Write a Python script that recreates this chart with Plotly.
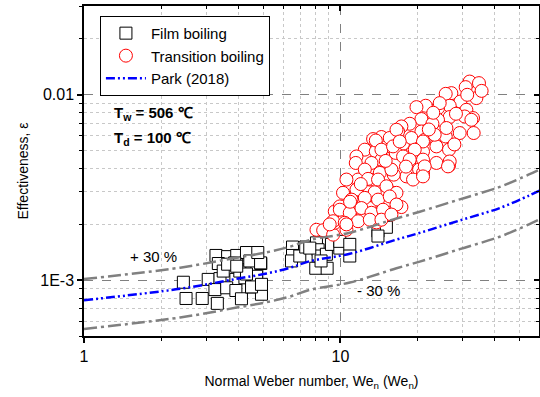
import plotly.graph_objects as go

# Film boiling (squares)
film_we = [2.44, 2.50, 2.89, 3.31, 3.27, 3.63, 3.94, 4.30, 3.34, 3.87, 4.24, 4.89, 3.05, 3.39,
           3.91, 4.24, 3.24, 3.60, 3.91, 4.11, 4.50, 4.92, 4.71, 4.05, 3.49, 3.63, 4.43, 4.88,
           4.92, 4.50, 4.92, 4.30, 4.76, 3.94,
           6.50, 6.50, 6.44, 6.94, 7.32, 8.06, 8.18, 8.18, 8.01, 8.87, 8.81, 9.22, 9.94, 9.94,
           10.87, 10.87, 14.0, 15.1, 14.0, 7.59, 8.4]
film_eff = [9.75e-4, 7.97e-4, 7.97e-4, 7.5e-4, 1.36e-3, 1.34e-3, 1.36e-3, 1.41e-3, 1.23e-3,
            1.24e-3, 1.14e-3, 1.23e-3, 1.01e-3, 1.02e-3, 1.01e-3, 1.03e-3, 8.9e-4, 9.1e-4,
            8.8e-4, 7.94e-4, 9.2e-4, 9.2e-4, 1.05e-3, 1.12e-3, 1.12e-3, 1.22e-3, 1.27e-3,
            1.24e-3, 8.4e-4, 9.2e-4, 9.5e-4, 1.08e-3, 1.41e-3, 1.19e-3,
            1.51e-3, 1.36e-3, 1.27e-3, 1.35e-3, 1.51e-3, 1.59e-3, 1.46e-3, 1.35e-3, 1.16e-3,
            1.16e-3, 1.38e-3, 1.56e-3, 1.49e-3, 1.62e-3, 1.56e-3, 1.35e-3, 1.84e-3, 1.93e-3,
            1.73e-3, 1.49e-3, 1.27e-3]

# Transition boiling (circles)
trans_we = [31.89, 34.67, 30.77, 27.06, 25.72, 33.87, 29.35, 26.66, 24.00, 21.49, 19.78, 30.96,
            32.86, 26.66, 24.00, 20.68, 18.62, 22.83, 33.06, 29.16, 25.72, 20.68, 17.28, 16.77,
            21.30, 19.18, 17.54, 16.03, 14.44, 13.40, 15.19, 16.42, 23.66, 26.49, 20.98, 12.44,
            13.73, 14.44, 11.54, 11.47, 13.01, 17.54, 18.51, 20.98, 23.66, 26.49, 20.25, 18.08,
            16.13, 14.23, 13.01, 11.71, 10.55, 10.23, 11.61, 13.60, 16.03, 19.18, 20.98,
            8.06, 8.56, 9.36, 10.55, 9.50, 10.09, 11.20, 12.25, 9.50, 13.81, 15.56, 17.28,
            13.81, 11.89, 13.01, 9.94,
            13.73, 15.56, 14.44, 16.03, 13.21, 12.44, 15.80, 12.81, 14.01, 11.54, 15.11, 16.53,
            11.04, 12.44, 14.01, 15.56, 9.94, 10.87, 12.07, 13.21, 14.66, 16.53, 9.36, 10.39,
            11.71, 13.01, 14.44, 15.80,
            24.37, 30.50, 32.39, 16.53, 25.88, 23.30, 18.91, 17.02, 20.98, 19.48, 18.62, 26.66,
            26.26, 21.30, 20.98, 9.08, 10.55,
            28.2, 35.5, 22.1, 18.0, 15.0, 27.8, 12.0, 10.9, 31.2, 23.0]
trans_eff = [0.01179, 0.01156, 0.01100, 0.01021, 0.01012, 0.00960, 0.00920, 0.00873, 0.00848,
             0.00873, 0.00858, 0.00830, 0.00749, 0.00759, 0.00733, 0.00740, 0.00698, 0.00698,
             0.00622, 0.00622, 0.00596, 0.00634, 0.00675, 0.00634, 0.00572, 0.00510, 0.00545,
             0.00572, 0.00592, 0.00577, 0.00527, 0.00486, 0.00527, 0.00506, 0.00495, 0.00506,
             0.00495, 0.00447, 0.00465, 0.00429, 0.00403, 0.00465, 0.00429, 0.00447, 0.00429,
             0.00415, 0.00395, 0.00363, 0.00371, 0.00379, 0.00349, 0.00349, 0.00349, 0.00296,
             0.00305, 0.00298, 0.00296, 0.00349, 0.00379,
             0.00187, 0.00186, 0.00176, 0.00187, 0.00204, 0.00226, 0.00226, 0.00226, 0.00235,
             0.00256, 0.00231, 0.00248, 0.00205, 0.00261, 0.00245, 0.00250,
             0.00567, 0.00585, 0.00506, 0.00527, 0.00429, 0.00395, 0.00395, 0.00352, 0.00349,
             0.00308, 0.00321, 0.00296, 0.00272, 0.00278, 0.00272, 0.00283, 0.00240, 0.00231,
             0.00245, 0.00231, 0.00240, 0.00256, 0.00208, 0.00204, 0.00208, 0.00212, 0.00212,
             0.00226,
             0.00902, 0.00764, 0.00733, 0.00648, 0.00662, 0.00609, 0.00585, 0.00560, 0.00560,
             0.00506, 0.00447, 0.00437, 0.00411, 0.00411, 0.00363, 0.00200, 0.00200,
             0.00790, 0.01050, 0.00650, 0.00410, 0.00440, 0.00540, 0.00330, 0.00265, 0.01000, 0.00800]

# Park (2018) correlation
park_we = [1.0, 2.37, 3.94, 5.15, 6.35, 7.59, 10.87, 16.53, 20.37, 29.16, 41.75, 54.3, 60.0]
park_eff = [7.80e-4, 8.99e-4, 1.017e-3, 1.087e-3, 1.166e-3, 1.266e-3, 1.388e-3, 1.656e-3,
            1.80e-3, 2.10e-3, 2.45e-3, 2.86e-3, 3.05e-3]
band = 0.30
upper_eff = [v * (1 + band) for v in park_eff]
lower_eff = [v * (1 - band) for v in park_eff]

x_major = [1, 10]
x_major_text = ["1", "10"]
x_minor = [2, 3, 4, 5, 6, 7, 8, 9, 20, 30, 40, 50]
y_major = [0.001, 0.01]
y_major_text = ["1E-3", "0.01"]
y_minor = [5e-4, 6e-4, 7e-4, 8e-4, 9e-4, 2e-3, 3e-3, 4e-3, 5e-3, 6e-3, 7e-3, 8e-3, 9e-3, 2e-2, 3e-2]

FONT = "Liberation Sans, Arial, sans-serif"
xr = [0, 1.774]
yr = [-3.301, -1.521]

fig = go.Figure()
fig.add_trace(go.Scatter(x=film_we, y=film_eff, mode="markers", name="Film boiling",
                         marker=dict(symbol="square", size=12, color="white",
                                     line=dict(color="black", width=1))))
fig.add_trace(go.Scatter(x=trans_we, y=trans_eff, mode="markers", name="Transition boiling",
                         marker=dict(symbol="circle", size=13, color="white",
                                     line=dict(color="red", width=1))))
fig.add_trace(go.Scatter(x=park_we, y=upper_eff, mode="lines", showlegend=False,
                         line=dict(color="#808080", width=2.5, dash="13px,4px,3px,4px", shape="spline")))
fig.add_trace(go.Scatter(x=park_we, y=lower_eff, mode="lines", showlegend=False,
                         line=dict(color="#808080", width=2.5, dash="13px,4px,3px,4px", shape="spline")))
fig.add_trace(go.Scatter(x=park_we, y=park_eff, mode="lines", name="Park (2018)",
                         line=dict(color="#0000ff", width=2.5, dash="9px,3px,2px,3px,2px,3px", shape="spline")))

axis_common = dict(type="log", showline=True, linecolor="black", linewidth=1.5, automargin=False,
                   tickfont=dict(family=FONT, size=16, color="black"), zeroline=False)

fig.update_layout(
    width=540, height=397,
    margin=dict(l=84, r=1, t=6, b=61),
    paper_bgcolor="white", plot_bgcolor="white",
    font=dict(family=FONT, color="black"),
    xaxis=dict(**axis_common, range=xr, tickmode="array", tickvals=x_major, ticktext=x_major_text,
               ticks="outside", ticklen=5, tickwidth=1.5, tickcolor="black",
               showgrid=True, gridcolor="#808080", gridwidth=1, griddash="dash",
               minor=dict(tickmode="array", tickvals=x_minor, ticks="outside", ticklen=3,
                          tickwidth=1, tickcolor="black", showgrid=True, gridcolor="#c8c8c8",
                          griddash="dot", gridwidth=1),
               title=dict(text="Normal Weber number, We<sub>n</sub> (We<sub>n</sub>)",
                          font=dict(family=FONT, size=14), standoff=12)),
    yaxis=dict(**axis_common, range=yr, tickmode="array", tickvals=y_major, ticktext=y_major_text,
               ticks="outside", ticklen=5, tickwidth=1.5, tickcolor="black",
               showgrid=True, gridcolor="#808080", gridwidth=1, griddash="dash",
               minor=dict(tickmode="array", tickvals=y_minor, ticks="outside", ticklen=3,
                          tickwidth=1, tickcolor="black", showgrid=True, gridcolor="#c8c8c8",
                          griddash="dot", gridwidth=1),
               title=dict(text="Effectiveness, ε", font=dict(family=FONT, size=14), standoff=8)),
    xaxis2=dict(type="log", overlaying="x", side="top", range=xr, tickmode="array", tickvals=x_major,
                ticks="inside", ticklen=5, tickwidth=1.5, tickcolor="black", showticklabels=False,
                showgrid=False, showline=True, linecolor="black", linewidth=1.5, zeroline=False,
                automargin=False,
                minor=dict(tickmode="array", tickvals=x_minor, ticks="inside", ticklen=3,
                           tickwidth=1, tickcolor="black", showgrid=False)),
    yaxis2=dict(type="log", overlaying="y", side="right", range=yr, tickmode="array", tickvals=y_major,
                ticks="inside", ticklen=5, tickwidth=1.5, tickcolor="black", showticklabels=False,
                showgrid=False, showline=True, linecolor="black", linewidth=1.5, zeroline=False,
                automargin=False,
                minor=dict(tickmode="array", tickvals=y_minor, ticks="inside", ticklen=3,
                           tickwidth=1, tickcolor="black", showgrid=False)),
    legend=dict(x=0.035, y=0.97, xanchor="left", yanchor="top", bgcolor="white",
                bordercolor="black", borderwidth=1, font=dict(family=FONT, size=15),
                itemwidth=40, tracegroupgap=0),
    showlegend=True,
)

fig.add_trace(go.Scatter(x=[None], y=[None], xaxis="x2", yaxis="y2", showlegend=False, hoverinfo="skip"))

ann_font = dict(family=FONT, size=15, color="black")
fig.add_annotation(xref="paper", yref="paper", x=0.0615, y=0.675, xanchor="left", yanchor="middle",
                   text="<b>T<sub>w</sub> = 506 ℃</b>", showarrow=False, font=ann_font)
fig.add_annotation(xref="paper", yref="paper", x=0.0615, y=0.598, xanchor="left", yanchor="middle",
                   text="<b>T<sub>d</sub> = 100 ℃</b>", showarrow=False, font=ann_font)
fig.add_annotation(xref="paper", yref="paper", x=0.0967, y=0.240, xanchor="left", yanchor="middle",
                   text="+ 30 %", showarrow=False, font=ann_font)
fig.add_annotation(xref="paper", yref="paper", x=0.5956, y=0.139, xanchor="left", yanchor="middle",
                   text="- 30 %", showarrow=False, font=ann_font)

fig.write_html("out.html", config={"displayModeBar": False},
               post_script="document.body.style.margin='0';document.body.style.overflow='hidden';")
